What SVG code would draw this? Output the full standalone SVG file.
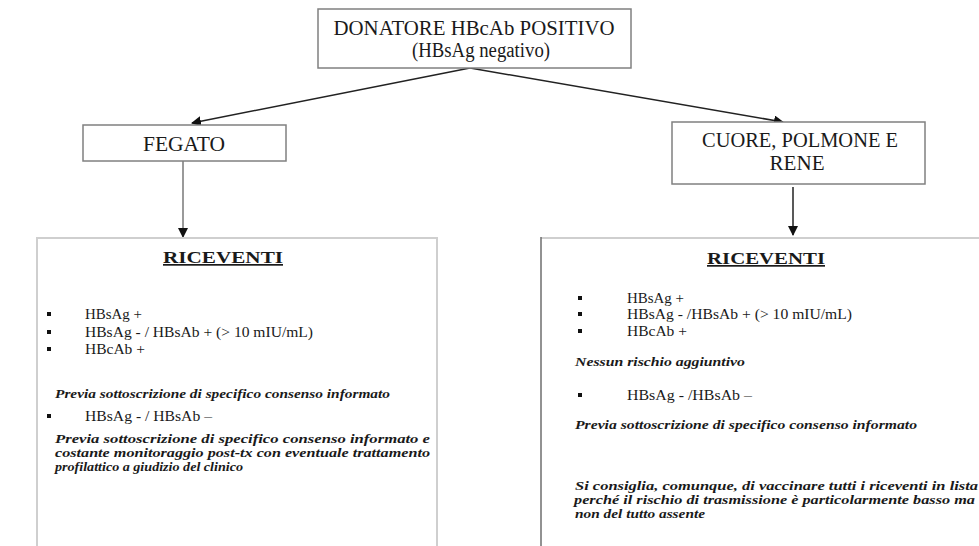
<svg xmlns="http://www.w3.org/2000/svg" width="979" height="546" viewBox="0 0 979 546">
<style>
.box{fill:#fff;stroke:#808080;stroke-width:1.5}
.t{font-family:"Liberation Serif","Times New Roman",serif;fill:#1a1a1a}
.title{font-size:20px;text-anchor:middle}
.hdr{font-size:17px;font-weight:bold;text-anchor:middle;text-decoration:underline}
.b{font-size:14.5px}
.it{font-size:13px;font-style:italic;font-weight:bold}
.bul{fill:#111}
.conn{stroke:#222;stroke-width:1.5;fill:none}
</style>
<defs>
<marker id="ah" markerWidth="10" markerHeight="10" refX="9" refY="5" orient="auto" markerUnits="userSpaceOnUse">
<path d="M0,0 L10,5 L0,10 z" fill="#111"/>
</marker>
</defs>
<rect width="979" height="546" fill="#fff"/>

<g id="connectors">
<line class="conn" x1="470" y1="68" x2="192" y2="123" marker-end="url(#ah)"/>
<line class="conn" x1="470" y1="68" x2="783" y2="122" marker-end="url(#ah)"/>
<line x1="183" y1="161" x2="183" y2="237" stroke="#9a9a9a" stroke-width="2" marker-end="url(#ah)"/>
<line class="conn" x1="793" y1="187" x2="793" y2="235" stroke-width="1.2" marker-end="url(#ah)"/>
</g>

<g id="donatore">
<rect class="box" x="318" y="9" width="313" height="59"/>
<text class="t title" x="474" y="35" textLength="281" lengthAdjust="spacingAndGlyphs">DONATORE HBcAb POSITIVO</text>
<text class="t title" x="481" y="57" font-size="18" textLength="138" lengthAdjust="spacingAndGlyphs">(HBsAg negativo)</text>
</g>

<g id="fegato">
<rect class="box" x="83" y="125" width="203" height="36"/>
<text class="t title" x="184" y="151" textLength="82" lengthAdjust="spacingAndGlyphs">FEGATO</text>
</g>

<g id="cuore">
<rect class="box" x="672" y="122" width="253" height="62"/>
<text class="t title" x="800" y="147" textLength="196" lengthAdjust="spacingAndGlyphs">CUORE, POLMONE E</text>
<text class="t title" x="797" y="170" textLength="55" lengthAdjust="spacingAndGlyphs">RENE</text>
</g>

<g id="riceventi-fegato">
<path d="M37,560 L37,238 L437,238 L437,560" fill="#fff" stroke="#cfcfcf" stroke-width="2"/>
<text class="t hdr" x="223" y="263" textLength="120" lengthAdjust="spacingAndGlyphs">RICEVENTI</text>
<rect class="bul" x="47" y="312" width="4" height="4"/>
<text class="t b" x="85" y="319" textLength="57" lengthAdjust="spacingAndGlyphs">HBsAg +</text>
<rect class="bul" x="47" y="330" width="4" height="4"/>
<text class="t b" x="85" y="337" textLength="228" lengthAdjust="spacingAndGlyphs">HBsAg - / HBsAb + (&gt; 10 mIU/mL)</text>
<rect class="bul" x="47" y="347" width="4" height="4"/>
<text class="t b" x="85" y="354" textLength="60" lengthAdjust="spacingAndGlyphs">HBcAb +</text>
<text class="t it" x="55" y="398" textLength="335" lengthAdjust="spacingAndGlyphs">Previa sottoscrizione di specifico consenso informato</text>
<rect class="bul" x="47" y="414" width="4" height="4"/>
<text class="t b" x="85" y="421" textLength="127" lengthAdjust="spacingAndGlyphs">HBsAg - / HBsAb –</text>
<text class="t it" x="55" y="443" textLength="375" lengthAdjust="spacingAndGlyphs">Previa sottoscrizione di specifico consenso informato e</text>
<text class="t it" x="55" y="457" textLength="375" lengthAdjust="spacingAndGlyphs">costante monitoraggio post-tx con eventuale trattamento</text>
<text class="t it" x="55" y="471" textLength="188" lengthAdjust="spacingAndGlyphs">profilattico a giudizio del clinico</text>
</g>

<g id="riceventi-altri">
<path d="M990,238 L541,238" fill="none" stroke="#cfcfcf" stroke-width="2"/>
<path d="M541,237 L541,560" fill="none" stroke="#6e6e6e" stroke-width="1.5"/>
<text class="t hdr" x="766" y="264" textLength="118" lengthAdjust="spacingAndGlyphs">RICEVENTI</text>
<rect class="bul" x="578" y="296" width="4" height="4"/>
<text class="t b" x="627" y="303" textLength="57" lengthAdjust="spacingAndGlyphs">HBsAg +</text>
<rect class="bul" x="578" y="312" width="4" height="4"/>
<text class="t b" x="627" y="319" textLength="225" lengthAdjust="spacingAndGlyphs">HBsAg - /HBsAb + (&gt; 10 mIU/mL)</text>
<rect class="bul" x="578" y="329" width="4" height="4"/>
<text class="t b" x="627" y="336" textLength="60" lengthAdjust="spacingAndGlyphs">HBcAb +</text>
<text class="t it" x="575" y="366" textLength="170" lengthAdjust="spacingAndGlyphs">Nessun rischio aggiuntivo</text>
<rect class="bul" x="578" y="393" width="4" height="4"/>
<text class="t b" x="627" y="400" textLength="125" lengthAdjust="spacingAndGlyphs">HBsAg - /HBsAb –</text>
<text class="t it" x="575" y="429" textLength="342" lengthAdjust="spacingAndGlyphs">Previa sottoscrizione di specifico consenso informato</text>
<text class="t it" x="575" y="490" textLength="403" lengthAdjust="spacingAndGlyphs">Si consiglia, comunque, di vaccinare tutti i riceventi in lista</text>
<text class="t it" x="574" y="504" textLength="401" lengthAdjust="spacingAndGlyphs">perché il rischio di trasmissione è particolarmente basso ma</text>
<text class="t it" x="575" y="518" textLength="130" lengthAdjust="spacingAndGlyphs">non del tutto assente</text>
</g>
</svg>
